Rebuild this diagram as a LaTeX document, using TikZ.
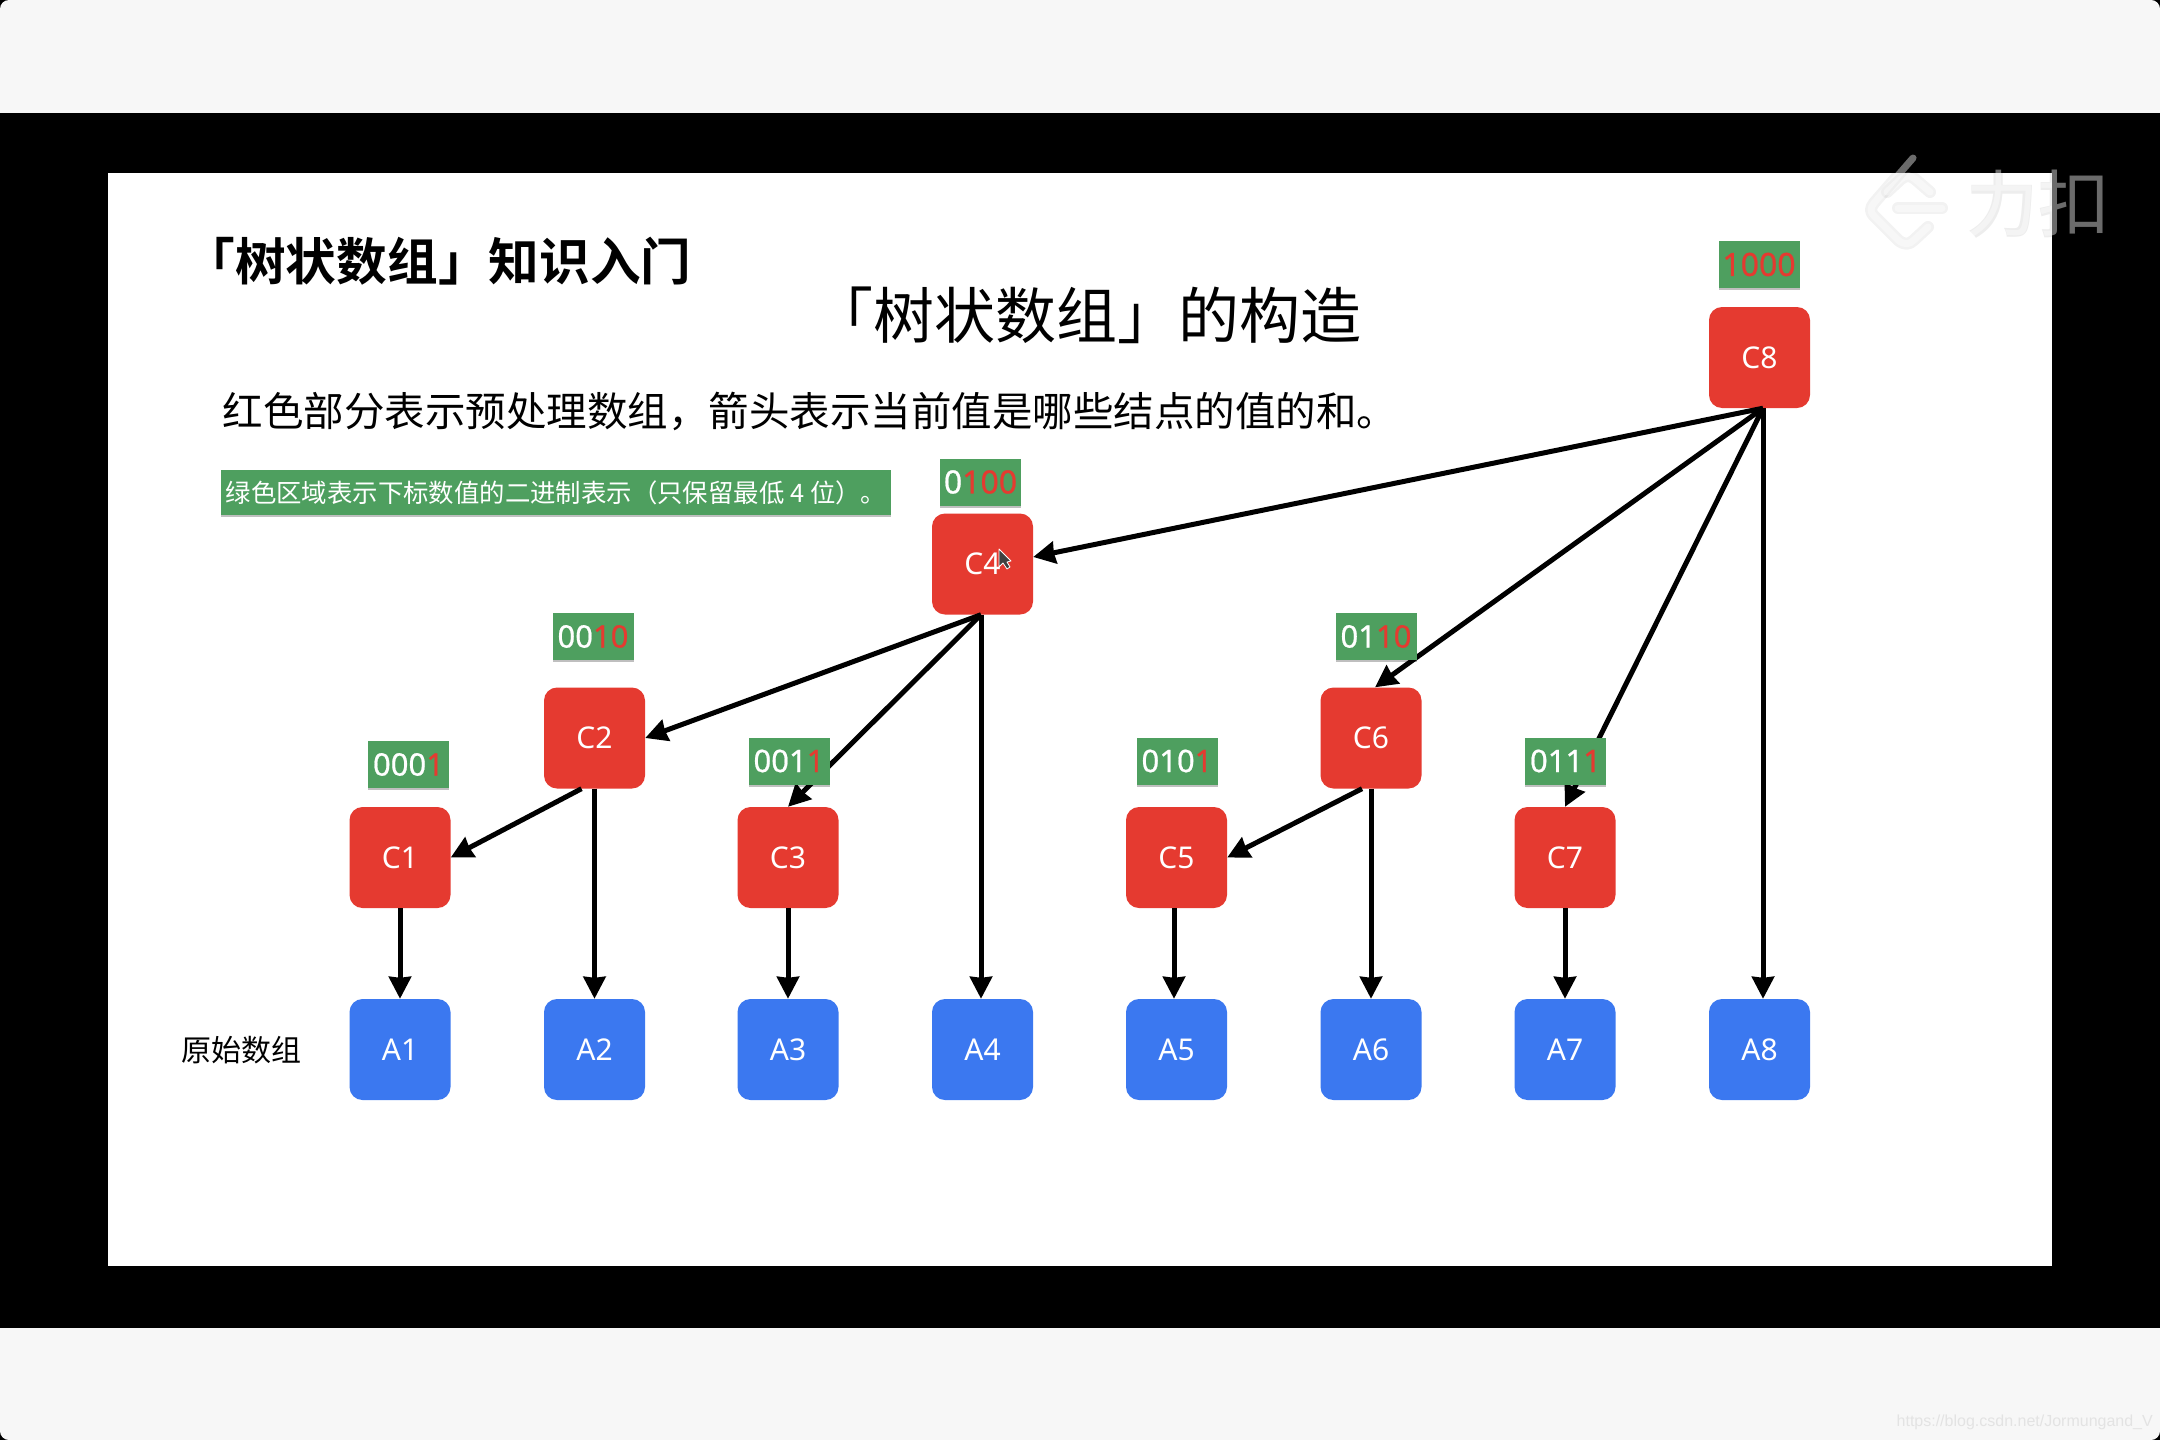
\documentclass[tikz,border=0pt]{standalone}
\usepackage{fontspec}
\setmainfont{Noto Sans}
\newfontfamily\cjk{Noto Sans CJK SC}
\newfontfamily\cjkb{Noto Sans CJK SC Bold}
\newfontfamily\urlf{Liberation Sans}
\newfontfamily\bitfont[FakeBold=0.7]{Noto Sans}
\usetikzlibrary{arrows.meta,shadows,calc}
\definecolor{pagebg}{HTML}{F7F7F7}
\definecolor{cred}{HTML}{E53A30}
\definecolor{ablue}{HTML}{3B78F0}
\definecolor{lgreen}{HTML}{4E9F5F}
\newcommand{\fs}[1]{\fontsize{#1pt}{#1pt}\selectfont}
\newcommand{\rd}[1]{\textcolor{cred}{#1}}
\tikzset{
  cbox/.style={fill=cred,rounded corners=13pt,minimum width=101pt,minimum height=101pt,inner sep=0pt,text=white,font=\fs{30}},
  abox/.style={cbox,fill=ablue},
  bits/.style={fill=lgreen,minimum width=81pt,minimum height=47pt,inner sep=0pt,text=white,font=\bitfont\fs{31},
     drop shadow={shadow xshift=0pt,shadow yshift=-2pt,opacity=.25,fill=black}},
  link/.style={draw=black,line width=5pt,-{Stealth[length=22pt,width=22pt,inset=1pt]},shorten >=0pt},
  heading/.style={inner sep=0pt,text=black,anchor=center},
  markglow/.style={draw=black,draw opacity=.05,line width=12pt,line cap=round,line join=round},
  markstroke/.style={draw=white,draw opacity=.42,line width=7pt,line cap=round,line join=round}
}
\begin{document}
\begin{tikzpicture}[x=1pt,y=-1pt]
\useasboundingbox (0,0) rectangle (2160,1440);
\fill[black] (0,0) rectangle (2160,1440);
\fill[pagebg,rounded corners=9pt] (0,0) rectangle (2160,1440);
\fill[black] (0,113) rectangle (2160,1328);
\fill[white] (108,173) rectangle (2052,1266);
% headings
\node[heading,font=\cjkb\fs{50.7}] (t1) at (438,261) {「树状数组」知识入门};
\node[heading,font=\cjk\fs{61}] (t2) at (1087,315) {「树状数组」的构造};
\node[heading,font=\cjk\fs{40.5}] (t3) at (810,411) {红色部分表示预处理数组，箭头表示当前值是哪些结点的值的和。};
\node[fill=lgreen,minimum width=670pt,minimum height=45pt,inner sep=0pt,text=white,
  drop shadow={shadow xshift=0pt,shadow yshift=-2pt,opacity=.25,fill=black},
  font=\cjk\fs{25.4}] (t4) at (556,492.5) {绿色区域表示下标数值的二进制表示（只保留最低 4 位）。};
\node[heading,font=\cjk\fs{30}] (t5) at (241,1050) {原始数组};
% C row
\node[cbox] (c8) at (1759.5,357.5) {C8};
\node[cbox] (c4) at (982.5,564) {C4};
\node[cbox] (c2) at (594.5,738) {C2};
\node[cbox] (c6) at (1371,738) {C6};
\node[cbox] (c1) at (400,857.5) {C1};
\node[cbox] (c3) at (788,857.5) {C3};
\node[cbox] (c5) at (1176.5,857.5) {C5};
\node[cbox] (c7) at (1565,857.5) {C7};
% A row
\node[abox] (a1) at (400,1049.5) {A1};
\node[abox] (a2) at (594.5,1049.5) {A2};
\node[abox] (a3) at (788,1049.5) {A3};
\node[abox] (a4) at (982.5,1049.5) {A4};
\node[abox] (a5) at (1176.5,1049.5) {A5};
\node[abox] (a6) at (1371,1049.5) {A6};
\node[abox] (a7) at (1565,1049.5) {A7};
\node[abox] (a8) at (1759.5,1049.5) {A8};
% connectors
\coordinate (c8o) at ([xshift=3.5pt]c8.south);
\coordinate (c4o) at ([xshift=-1.5pt]c4.south);
\draw[link] (c8o) -- ([yshift=7pt]c4.east);
\draw[link] (c8o) -- ([xshift=4pt]c6.north);
\draw[link] (c8o) -- (c7.north);
\draw[link] (c8o) -- (c8o |- a8.north);
\draw[link] (c4o) -- (c2.east);
\draw[link] (c4o) -- (c3.north);
\draw[link] (c4o) -- (c4o |- a4.north);
\draw[link] ([xshift=-13pt]c2.south) -- (c1.east);
\draw[link] (c2.south) -- (a2.north);
\draw[link] ([xshift=-9pt]c6.south) -- (c5.east);
\draw[link] (c6.south) -- (a6.north);
\draw[link] (c1.south) -- (a1.north);
\draw[link] (c3.south) -- (a3.north);
\draw[link] ([xshift=-2.5pt]c5.south) -- ([xshift=-2.5pt]a5.north);
\draw[link] (c7.south) -- (a7.north);
% bit labels
\node[bits,font=\bitfont\fs{32}] (b8) at (1759,264.5) {\rd{1000}};
\node[bits,font=\bitfont\fs{32}] (b4) at (980.5,482) {0\rd{100}};
\node[bits] (b2) at (593,636.5) {00\rd{10}};
\node[bits] (b6) at (1376,636.5) {01\rd{10}};
\node[bits] (b1) at (408.5,764.5) {000\rd{1}};
\node[bits] (b3) at (789,761) {001\rd{1}};
\node[bits] (b5) at (1177,761) {010\rd{1}};
\node[bits] (b7) at (1565.5,761) {011\rd{1}};
% mouse cursor over C4
\draw[fill=black!75,draw=white,line width=.8pt,line join=round]
  (999,549) -- (999,567) -- (1003,563) -- (1007,569) -- (1010,567) -- (1007,562) -- (1011,561) -- cycle;
% watermark
\def\markA{(1913,158) -- (1874,203) .. controls (1870,208) and (1870,212) .. (1874,216)
  -- (1898,240) .. controls (1904,245) and (1909,245) .. (1914,240) -- (1928,227)}
\def\markB{(1887,192) -- (1901,179) .. controls (1906,175) and (1910,175) .. (1915,179) -- (1930,192)}
\draw[markglow] \markA;
\draw[markglow] \markB;
\draw[markglow] (1898,208) -- (1942,208);
\draw[markstroke] \markA;
\draw[markstroke] \markB;
\draw[markstroke] (1898,208) -- (1942,208);
\node[inner sep=0pt,text=black,text opacity=.07,font=\cjkb\fs{72}] (wmglow) at (2038,204) {力扣};
\node[inner sep=0pt,text=white,text opacity=.42,font=\cjk\fs{72}] (wm) at (2038,203) {力扣};
\node[inner sep=0pt,text=black!11,font=\urlf\fs{16},anchor=east] (url) at (2153,1422) {https://blog.csdn.net/Jormungand\_V};
\end{tikzpicture}
\end{document}
